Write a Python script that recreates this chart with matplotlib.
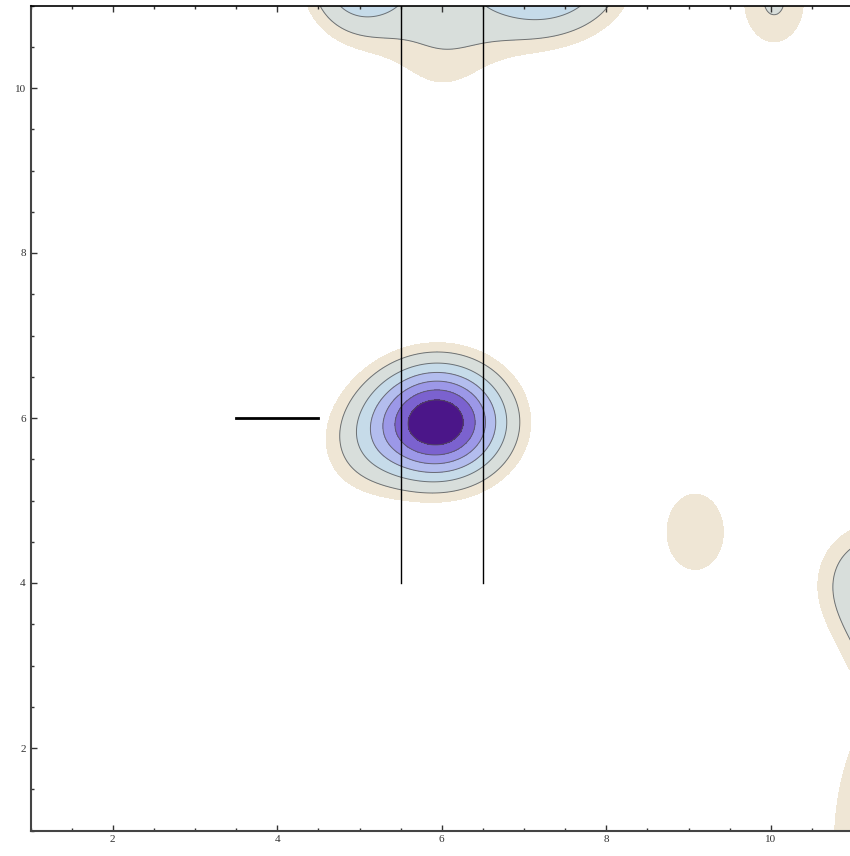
import numpy as np
import matplotlib.pyplot as plt
from matplotlib.ticker import MultipleLocator

# bumps of the field: centre x, centre y, height, width x, width y
bump_x = [5.95, 4.95, 4.95, 7.25, 6.0, 7.95, 10.04, 9.08, 11.3, 11.5, 11.6]
bump_y = [5.95, 5.6, 11.3, 11.2, 11.0, 11.35, 11.05, 4.62, 4.0, 3.2, 0.8]
bump_h = [8.0, 1.1, 3.6, 3.5, 2.1, 0.9, 2.1, 1.8, 3.1, 1.3, 3.5]
bump_sx = [0.60, 0.45, 0.45, 0.60, 0.60, 0.40, 0.38, 0.45, 0.55, 0.40, 0.60]
bump_sy = [0.51, 0.50, 0.50, 0.50, 0.95, 0.40, 0.52, 0.60, 0.55, 0.40, 1.30]

levels = [1.35, 2, 3, 4, 5, 6, 7, 100]
colors = ['#efe6d5', '#d8dedb', '#c6dbe9', '#b3bdee', '#9c98e8', '#7b62cf', '#4b1689']

# marker lines
vline_x = [5.5, 6.5]
vline_y0 = 4
hline_y = 6
hline_x = [3.5, 4.5]

x = np.linspace(1, 11, 500)
y = np.linspace(1, 11, 500)
X, Y = np.meshgrid(x, y)
Z = np.zeros_like(X)
for cx, cy, h, sx, sy in zip(bump_x, bump_y, bump_h, bump_sx, bump_sy):
    Z += h * np.exp(-(X - cx) ** 2 / (2 * sx ** 2) - (Y - cy) ** 2 / (2 * sy ** 2))

fig = plt.figure(figsize=(8.5, 8.56), dpi=100)
ax = fig.add_axes([30.5 / 850, 25.5 / 856, 822.5 / 850, 825 / 856])

ax.contourf(X, Y, Z, levels=levels, colors=colors)
ax.contour(X, Y, Z, levels=levels[1:-1], colors='#555555', linewidths=0.7, alpha=0.8)

for vx in vline_x:
    ax.plot([vx, vx], [vline_y0, 11], color='black', lw=1)
ax.plot(hline_x, [hline_y, hline_y], color='black', lw=2)

ax.set_xlim(1, 11)
ax.set_ylim(1, 11)
ax.xaxis.set_major_locator(MultipleLocator(2))
ax.yaxis.set_major_locator(MultipleLocator(2))
ax.xaxis.set_minor_locator(MultipleLocator(0.5))
ax.yaxis.set_minor_locator(MultipleLocator(0.5))
ax.tick_params(which='both', direction='in', top=True, right=False, labelsize=8,
               colors='#333333', width=1)
ax.tick_params(which='major', length=4)
ax.tick_params(which='minor', length=2)
for lab in ax.get_xticklabels() + ax.get_yticklabels():
    lab.set_family('Liberation Serif')
for s in ['left', 'bottom']:
    ax.spines[s].set_color('#444444')
    ax.spines[s].set_linewidth(1.5)
ax.spines['top'].set_linewidth(1.2)

fig.savefig('out.png', dpi=100)
